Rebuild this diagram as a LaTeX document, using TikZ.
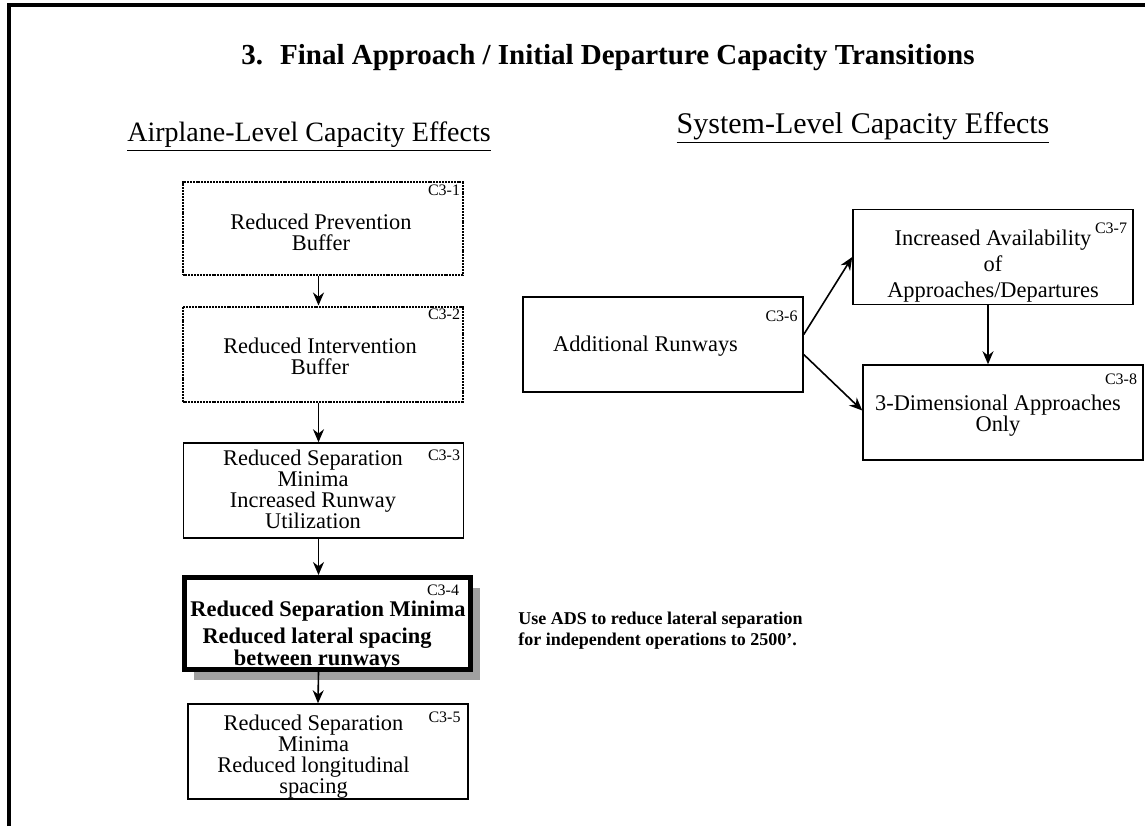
\documentclass[tikz,border=0pt]{standalone}
\usepackage{fontspec}
\setmainfont{Liberation Serif}
\usetikzlibrary{arrows.meta,positioning,calc,shadows}
\definecolor{shadowgray}{RGB}{160,160,160}

\begin{document}
\begin{tikzpicture}[x=0.5pt,y=-0.5pt,
    box/.style={draw, line width=0.75pt, minimum width=140pt, minimum height=47.5pt, inner sep=0pt},
    dotbox/.style={box, line width=1pt, dash pattern=on 1pt off 0.45pt},
    boxtext/.style={align=center, inner sep=0pt, font=\fontsize{11.2}{10.5}\selectfont},
    idlabel/.style={inner sep=0pt, font=\fontsize{8}{8}\selectfont},
    arr/.style={-{Stealth[length=6.5pt,width=5.5pt]}, line width=0.8pt}]
    \useasboundingbox (0,0) rectangle (1145,826);

    % frame and titles
    \draw[line width=2pt] (9,826) -- (9,5) -- (1150,5);
    \node[font=\fontsize{14.5}{16}\selectfont\bfseries] (title) at (608,58)
        {3.~ Final Approach / Initial Departure Capacity Transitions};
    \node[font=\fontsize{14}{16}\selectfont] (airhead) at (309,137) {\underline{Airplane-Level Capacity Effects}};
    \node[font=\fontsize{15}{16}\selectfont] (syshead) at (863,128) {\underline{System-Level Capacity Effects}};

    % airplane-level chain
    \node[dotbox, minimum height=46.5pt] (c31) at (322.5,228.5) {};
    \node[boxtext] (c31t) at (321,232) {Reduced Prevention\\Buffer};
    \node[idlabel] (c31id) at (444,190) {C3-1};

    \node[dotbox] (c32) at (322.5,354) {};
    \node[boxtext] (c32t) at (320,356) {Reduced Intervention\\Buffer};
    \node[idlabel] (c32id) at (444,314) {C3-2};

    \node[box] (c33) at (323.5,490.5) {};
    \node[boxtext] (c33t) at (313,489) {Reduced Separation\\Minima\\Increased Runway\\Utilization};
    \node[idlabel] (c33id) at (444,455) {C3-3};

    \node[box, line width=2.5pt, minimum width=143pt, minimum height=46pt,
        fill=white, drop shadow={shadow xshift=4.5pt, shadow yshift=-5pt, fill=shadowgray, opacity=1}]
        (c34) at (327.5,623.5) {};
    \node[boxtext, font=\fontsize{11.2}{10}\selectfont\bfseries] (c34a) at (328,611) {Reduced Separation Minima};
    \node[boxtext, font=\fontsize{11.2}{10}\selectfont\bfseries] (c34b) at (317,649) {Reduced lateral spacing\\between runways};
    \node[idlabel] (c34id) at (443,590) {C3-4};

    \node[box] (c35) at (328,751.5) {};
    \node[boxtext] (c35t) at (313.5,757) {Reduced Separation\\Minima\\Reduced longitudinal\\spacing};
    \node[idlabel] (c35id) at (444.5,717) {C3-5};

    \draw[arr] ([xshift=-2pt]c31.south) -- ([xshift=-2pt]c32.north);
    \draw[arr] ([xshift=-2pt]c32.south) -- ([xshift=-2.5pt]c33.north);
    \draw[arr] ([xshift=-2.5pt]c33.south) -- ([xshift=-4.5pt]c34.north);
    \draw[arr] ([xshift=-4.5pt]c34.south) -- ([xshift=-5pt]c35.north);

    % note
    \node[anchor=west, align=left, inner sep=0pt, font=\fontsize{9}{10.5}\selectfont\bfseries] (note) at (518,631)
        {Use ADS to reduce lateral separation\\for independent operations to 2500’.};

    % system-level
    \node[box] (c36) at (663,344.5) {};
    \node[boxtext] (c36t) at (645.5,346) {Additional Runways};
    \node[idlabel] (c36id) at (781.5,316) {C3-6};

    \node[box] (c37) at (993,257) {};
    \node[boxtext, font=\fontsize{11.2}{13}\selectfont] (c37t) at (993,266) {Increased Availability\\of\\Approaches/Departures};
    \node[idlabel] (c37id) at (1111,228) {C3-7};

    \node[box] (c38) at (1003,412.5) {};
    \node[boxtext] (c38t) at (998,416) {3-Dimensional Approaches\\Only};
    \node[idlabel] (c38id) at (1121,379) {C3-8};

    \draw[arr] ([yshift=5pt]c36.east) -- (c37.west);
    \draw[arr] ([yshift=-5pt]c36.east) -- ([yshift=1pt]c38.west);
    \draw[arr] ([xshift=-2.5pt]c37.south) -- ([xshift=-7.5pt]c38.north);
\end{tikzpicture}
\end{document}
